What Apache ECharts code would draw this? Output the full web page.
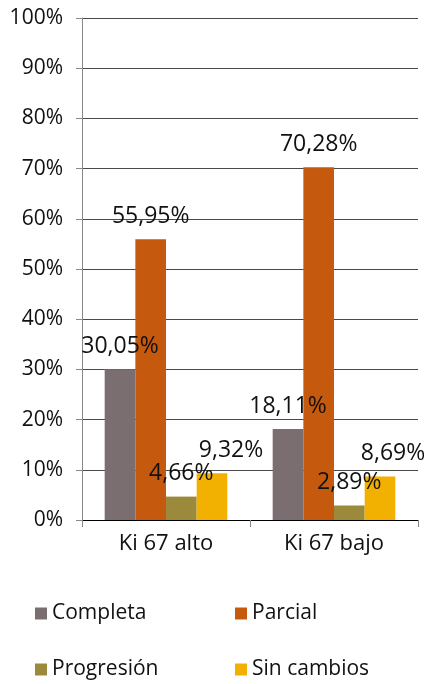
<!DOCTYPE html>
<html>
<head>
<meta charset="utf-8">
<script src="https://cdn.jsdelivr.net/npm/echarts@6/dist/echarts.min.js"></script>
<style>
html,body{margin:0;padding:0;background:#fff;}
#c{width:424px;height:684px;}
</style>
</head>
<body>
<div id="c"></div>
<script>
var categories = ['Ki 67 alto', 'Ki 67 bajo'];
var seriesNames = ['Completa', 'Parcial', 'Progresión', 'Sin cambios'];
var completa = [30.05, 18.11];
var parcial = [55.95, 70.28];
var progresion = [4.66, 2.89];
var sinCambios = [9.32, 8.69];
var yTicks = [0, 10, 20, 30, 40, 50, 60, 70, 80, 90, 100];

// styling (not data)
var colors = ['#7a6e71', '#c55a0f', '#9b8a3b', '#f2b100'];
var labelDx = [[0, 0], [0, 0], [0, 0], [19, 13]];
var legendPos = [[35, 603], [235, 603], [35, 659], [235, 659]];
var FONT = '"Open Sans", "Noto Sans", sans-serif';

var values = [completa, parcial, progresion, sinCambios];

var chart = echarts.init(document.getElementById('c'));

function fmt(v) { return v.toFixed(2).replace('.', ',') + '%'; }

var series = seriesNames.map(function (name, i) {
  return {
    name: name,
    type: 'bar',
    barGap: '0%',
    barCategoryGap: '27%',
    itemStyle: { color: colors[i] },
    label: {
      show: true,
      position: 'top',
      distance: 11,
      fontFamily: FONT,
      fontSize: 23,
      lineHeight: 24,
      color: '#111',
      formatter: function (p) { return fmt(p.value); }
    },
    data: values[i].map(function (v, j) {
      return { value: v, label: { offset: [labelDx[i][j], 0] } };
    }),
    animation: false
  };
});

var legends = seriesNames.map(function (name, i) {
  return {
    data: [name],
    left: legendPos[i][0],
    top: legendPos[i][1],
    padding: 0,
    icon: 'rect',
    itemWidth: 12,
    itemHeight: 12,
    selectedMode: false,
    textStyle: { fontFamily: FONT, fontSize: 21, color: '#111' }
  };
});

chart.setOption({
  animation: false,
  grid: { left: 82, right: 6, top: 18, bottom: 164 },
  legend: legends,
  xAxis: {
    type: 'category',
    data: categories,
    axisLine: { lineStyle: { color: '#000', width: 1 } },
    axisTick: { show: true, length: 7, lineStyle: { color: '#888' } },
    axisLabel: { fontFamily: FONT, fontSize: 22, color: '#111', margin: 13 }
  },
  yAxis: {
    type: 'value',
    min: yTicks[0],
    max: yTicks[yTicks.length - 1],
    interval: 10,
    axisLine: { show: true, lineStyle: { color: '#888' } },
    axisTick: { show: true, length: 6, lineStyle: { color: '#888' } },
    splitLine: { lineStyle: { color: '#4a4a4a', width: 1 } },
    axisLabel: {
      fontFamily: FONT, fontSize: 21, color: '#111', margin: 19,
      formatter: '{value}%'
    }
  },
  series: series
});
</script>
</body>
</html>
